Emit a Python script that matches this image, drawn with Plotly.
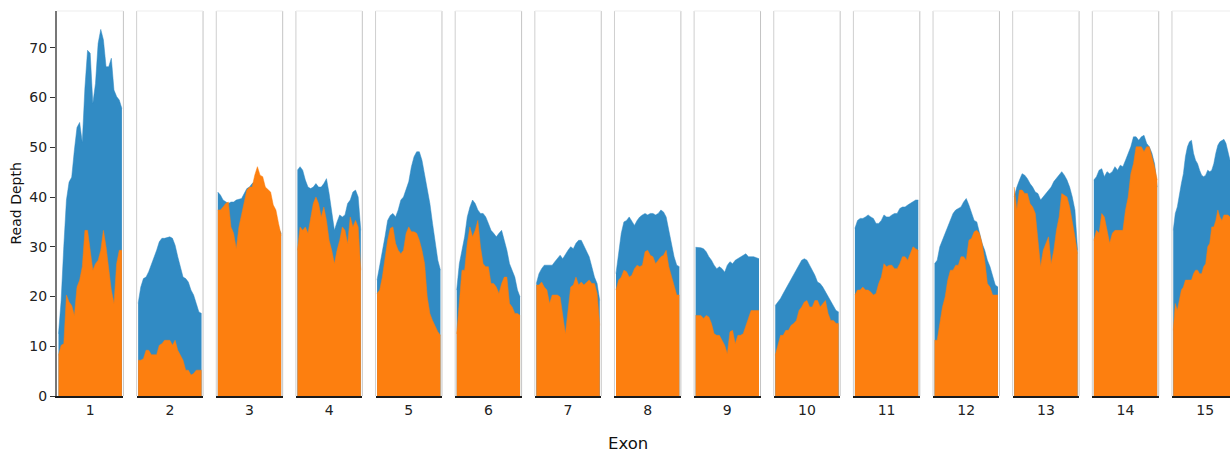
import plotly.graph_objects as go

# ---------------- data ----------------
exon_labels = [str(i) for i in range(1, 16)]

exon1_blue = [12.5, 19.2, 30, 39.4, 43, 44, 49.4, 54, 55, 51, 62, 69.5, 68.9, 58.8, 62.8, 70.9, 73.7, 71.6, 66.2, 66.2, 67.9, 61.5, 60.2, 59.5, 57.8]
exon1_orange = [8.2, 10.2, 10.5, 20.3, 18.9, 18.2, 16.2, 21.9, 23.3, 26, 33.3, 33.3, 29.3, 25.3, 26.6, 27.3, 29.3, 33.3, 30, 26, 21.3, 18.6, 26.6, 29.3, 29.3]

exon2_blue = [18.6, 21.9, 23.6, 23.9, 25, 26.3, 27.6, 29.3, 31, 31.7, 31.7, 31.9, 32, 31.7, 30.3, 28, 26, 23.9, 23.6, 22.9, 21.3, 20.3, 18.6, 16.9, 16.6]
exon2_orange = [7.2, 7.2, 7.5, 9.2, 9.2, 8.3, 8.3, 8.3, 10.2, 10.5, 11.2, 11.2, 11.2, 10.2, 11.2, 9.2, 8.2, 7.2, 5.2, 5.2, 4.2, 4.5, 5.2, 5.2, 5.2]

exon3_blue = [41, 40.4, 39.4, 39, 38.7, 39, 39, 39.4, 39.5, 39.7, 40.7, 41.7, 42, 42.7, 43.1, 43.4, 42, 40.7, 39.4, 38, 36.7, 35.7, 34.3, 33.7, 32.7]
exon3_orange = [37.4, 37.4, 38, 38.7, 39, 34, 32.7, 29.6, 34, 36.7, 39.4, 41.4, 42, 42, 44.4, 46.1, 44.4, 44.1, 42, 41.4, 41, 38.4, 37.4, 34.7, 32.3]

exon4_blue = [45.4, 46.1, 45.4, 43.4, 42, 41.7, 42, 42.7, 42, 42, 42.7, 43.7, 40.7, 37.4, 33.3, 35, 36.4, 36, 36.4, 38.7, 39.4, 41, 41.4, 40, 33.3]
exon4_orange = [29.3, 34, 33.3, 34, 32.7, 36, 38.7, 40, 38.7, 36, 38, 35.3, 31.3, 29.3, 26.6, 29.3, 31.3, 34, 33.3, 30.6, 36, 34, 35.3, 34, 25.3]

exon5_blue = [23.3, 26, 29.3, 32, 35.3, 36.3, 36.7, 36, 37.4, 39.4, 40, 41.4, 43.1, 46.1, 48.1, 49.1, 49.1, 47.4, 44.7, 42, 38.7, 34.7, 30.7, 27.3, 25.3]
exon5_orange = [20.6, 21.3, 23.9, 27.3, 31.3, 33.7, 34, 30.7, 29.3, 28.6, 29.3, 32.7, 34, 33, 33, 32.7, 31.3, 29.3, 26.6, 19.9, 16.6, 15.2, 13.9, 12.9, 12.2]

exon6_blue = [21.3, 26.6, 29.3, 32, 36, 38, 39.4, 38.7, 37.4, 36.7, 36.7, 36, 34.7, 33.3, 32.7, 32, 32.7, 33.3, 31.3, 29.3, 26.6, 25.3, 23.9, 21.3, 19.9]
exon6_orange = [12.5, 19.2, 25.3, 25.3, 30.7, 34, 32, 33.3, 35.3, 30, 26.6, 26, 26, 22.6, 22.6, 21.9, 20.6, 22.6, 23.9, 23.9, 18.6, 17.9, 16.6, 16.6, 16.2]

exon7_blue = [22.6, 24.6, 25.6, 26.3, 26.3, 26.3, 26.3, 27, 27.6, 28.3, 27.6, 28.6, 29.3, 30, 29.6, 30.7, 31.3, 31.3, 30.3, 29.3, 28, 26, 23.9, 22.6, 19.2]
exon7_orange = [22.3, 22.3, 22.9, 21.9, 21.3, 18.6, 20.3, 20.3, 20.3, 19.9, 16.6, 12.5, 17.2, 21.9, 22.3, 23.9, 22.3, 22.9, 22.3, 22.9, 23.3, 22.6, 22.6, 20.6, 14.2]

exon8_blue = [24.6, 29.3, 32.7, 35, 35.3, 36, 35, 34.3, 35.3, 36, 36.4, 36.7, 36.4, 36.7, 36.7, 36.4, 36.7, 37.4, 37, 36, 33.3, 30.7, 28, 26.3, 26]
exon8_orange = [21.3, 23.3, 23.9, 25.3, 25, 23.9, 24.3, 25.6, 26.3, 26, 26.3, 29, 29.3, 28.3, 28, 26.6, 27.3, 28, 28.3, 29.3, 26, 23.9, 21.9, 20.3, 20.3]

exon9_blue = [29.9, 29.9, 29.8, 29.6, 29, 28, 27.3, 26.3, 25.6, 26, 25.6, 24.9, 26.3, 27, 26.6, 27.3, 27.6, 28, 28.3, 28.6, 28, 28, 28, 27.8, 27.6]
exon9_orange = [16.2, 16.2, 16.2, 15.6, 16.2, 15.9, 14.6, 12.5, 12.2, 12.2, 11.2, 10.2, 8.5, 12.9, 13.2, 10.5, 12.2, 12.2, 12.5, 14.2, 15.9, 17.2, 17.2, 17.2, 17.2]

exon10_blue = [18.2, 18.9, 19.6, 20.6, 21.6, 22.3, 23.3, 24.3, 25.6, 26.6, 27.3, 27.6, 27.3, 26.3, 25.3, 24.3, 22.9, 22.6, 21.9, 20.9, 19.9, 19.2, 18.2, 17.2, 16.9]
exon10_orange = [8.2, 10.5, 12.2, 12.2, 13.2, 13.2, 14.2, 14.6, 15.2, 17.2, 17.9, 18.9, 19.2, 17.9, 17.9, 19.2, 19.2, 17.9, 18.6, 19.2, 16.6, 15.2, 15.2, 14.6, 14.6]

exon11_blue = [33.7, 35.3, 35.7, 35.7, 36, 36.4, 36, 35.7, 34.7, 34.7, 35.3, 36.4, 36, 36, 36.4, 36.7, 36.7, 37.7, 38, 38, 38.4, 38.7, 39, 39.4, 39.4]
exon11_orange = [20.3, 21.3, 21.3, 21.9, 21.3, 21.3, 20.9, 20.3, 20.6, 22.6, 23.9, 26.6, 26, 26.3, 26.3, 25.6, 25.6, 26.6, 28, 28, 27.3, 28.6, 30, 29.6, 29.3]

exon12_blue = [26.6, 27.3, 30, 31.3, 33, 34, 35.3, 36.7, 37.4, 37.7, 38, 39, 39.7, 38.4, 36.7, 35.3, 35, 32.7, 30.7, 29.3, 27.3, 26, 23.9, 22.3, 21.9]
exon12_orange = [11.2, 11.2, 14.6, 17.9, 19.9, 23.3, 25.3, 25.3, 26.3, 26.3, 28, 28, 27.3, 31.3, 31.7, 33, 33.3, 32.7, 30.7, 27.3, 22.6, 21.9, 20.3, 20.3, 20.3]

exon13_blue = [40, 42, 43.4, 44.7, 44.4, 43.7, 42.7, 42, 41, 40.7, 39.4, 40, 40.7, 41.4, 42, 43.1, 43.7, 44.4, 45.1, 44.4, 43.4, 42, 40, 37.4, 29.3]
exon13_orange = [42, 37.4, 41.4, 41.4, 40.7, 40.7, 38.7, 38, 36.7, 30.7, 26, 29.3, 30.7, 32, 26.6, 29.3, 33.3, 36, 40.7, 40.4, 40, 38, 35.3, 32, 28.6]

exon14_blue = [43.4, 44.1, 45.4, 45.7, 44.1, 45.1, 44.7, 45.1, 46.1, 45.4, 46.4, 46.1, 47.4, 48.8, 50.1, 52.1, 52.1, 51.4, 52.1, 52.4, 50.8, 50.1, 48.8, 46.7, 42]
exon14_orange = [31.3, 33.3, 32.7, 36.7, 36, 33.3, 30.7, 32.7, 33.3, 33.3, 33.3, 33.3, 37.4, 40, 44.7, 46.7, 50.1, 50.1, 50.1, 49.1, 50.1, 50.1, 48.1, 46.1, 43.4]

exon15_blue = [33.3, 36.7, 38, 40.7, 42.7, 44.7, 48.1, 50.1, 51.1, 51.4, 48.8, 47.4, 46.7, 45.4, 44.4, 44.1, 44.4, 45.4, 45.1, 45.4, 46.7, 48.8, 50.4, 51.1, 51.4, 51.6, 50.8, 48.8, 47.4]
exon15_orange = [13.2, 18.6, 17.2, 19.2, 21.3, 21.9, 23.3, 23.3, 23.3, 23.3, 24.6, 25.3, 25.3, 24.6, 24.6, 26, 26.6, 30, 30.7, 34, 34, 35.3, 37.4, 36, 35.3, 36.4, 36.4, 36.4, 36]

y_ticks = [0, 10, 20, 30, 40, 50, 60, 70]

blue_series = [exon1_blue, exon2_blue, exon3_blue, exon4_blue, exon5_blue, exon6_blue, exon7_blue,
               exon8_blue, exon9_blue, exon10_blue, exon11_blue, exon12_blue, exon13_blue,
               exon14_blue, exon15_blue]
orange_series = [exon1_orange, exon2_orange, exon3_orange, exon4_orange, exon5_orange, exon6_orange,
                 exon7_orange, exon8_orange, exon9_orange, exon10_orange, exon11_orange,
                 exon12_orange, exon13_orange, exon14_orange, exon15_orange]

# ---------------- layout geometry ----------------
W, H = 1230, 452
ML, MT = 57, 11
MB = H - 395.7
PW = W - ML
PERIOD = 79.64
PANEL_W = 66.4
BLUE = "#318bc4"
ORANGE = "#fd7f0f"
FONT = "DejaVu Sans"

fig = go.Figure()
layout_axes = {}
shapes = []
n_ex = len(exon_labels)

for i in range(n_ex):
    ax = "" if i == 0 else str(i + 1)
    left = ML + i * PERIOD
    right = min(W, left + PANEL_W)
    d0 = (left - ML) / PW
    d1 = min(1.0, (right - ML) / PW)
    b = blue_series[i]
    o = orange_series[i]
    n = len(b)
    xs = list(range(n))
    if i == n_ex - 1:
        u = (W - (left + 1.3)) / (n - 1)
        rng = [-1.3 / u, n - 1]
        tick_pos = (PANEL_W / 2 - 1.3) / u
    else:
        u = (PANEL_W - 3.0) / (n - 1)
        rng = [-1.5 / u, n - 1 + 1.5 / u]
        tick_pos = (n - 1) / 2

    fig.add_trace(go.Scatter(x=xs, y=b, xaxis="x" + ax, yaxis="y", mode="lines",
                             fill="tozeroy", fillcolor=BLUE,
                             line=dict(color=BLUE, width=0.5), showlegend=False,
                             hoverinfo="skip"))
    fig.add_trace(go.Scatter(x=xs, y=o, xaxis="x" + ax, yaxis="y", mode="lines",
                             fill="tozeroy", fillcolor=ORANGE,
                             line=dict(color=ORANGE, width=0.5), showlegend=False,
                             hoverinfo="skip"))

    layout_axes["xaxis" + ax] = dict(
        domain=[d0, d1], range=rng, anchor="y",
        showline=True, linecolor="#1a1a1a", linewidth=2,
        showgrid=False, zeroline=False, ticks="",
        tickvals=[tick_pos],
        ticktext=[exon_labels[i]],
        tickfont=dict(family=FONT, size=14, color="#222"),
        fixedrange=True,
    )

    xref = "x" + ax + " domain"
    if i > 0:
        shapes.append(dict(type="line", xref=xref, yref="y domain", x0=0, x1=0, y0=0, y1=1,
                           line=dict(color="#cfcfcf", width=1)))
    if i < n_ex - 1:
        shapes.append(dict(type="line", xref=xref, yref="y domain", x0=1, x1=1, y0=0, y1=1,
                           line=dict(color="#c4c4c4", width=1)))
    shapes.append(dict(type="line", xref=xref, yref="y domain", x0=0, x1=1, y0=1, y1=1,
                       line=dict(color="#ededed", width=1)))

fig.update_layout(
    width=W, height=H,
    margin=dict(l=ML, r=0, t=MT, b=MB),
    paper_bgcolor="white", plot_bgcolor="white",
    yaxis=dict(domain=[0, 1], range=[0, 77.4], anchor="x",
               tickvals=y_ticks, ticks="outside", ticklen=5, tickcolor="#333",
               showline=True, linecolor="#777", linewidth=2,
               showgrid=False, zeroline=False,
               tickfont=dict(family=FONT, size=14, color="#222"), fixedrange=True),
    shapes=shapes,
    annotations=[
        dict(text="Read Depth", xref="paper", yref="paper", x=(15 - ML) / PW, y=0.5,
             textangle=-90, showarrow=False, xanchor="center", yanchor="middle",
             font=dict(family=FONT, size=14, color="#111")),
        dict(text="Exon", xref="paper", yref="paper", x=(628 - ML) / PW,
             y=(395.7 - 443.5) / (395.7 - MT), showarrow=False,
             xanchor="center", yanchor="middle",
             font=dict(family=FONT, size=16.5, color="#111")),
    ],
    **layout_axes,
)

fig.write_html("out.html", config={"displayModeBar": False},
               post_script="document.body.style.margin='0px';document.body.style.overflow='hidden';")
